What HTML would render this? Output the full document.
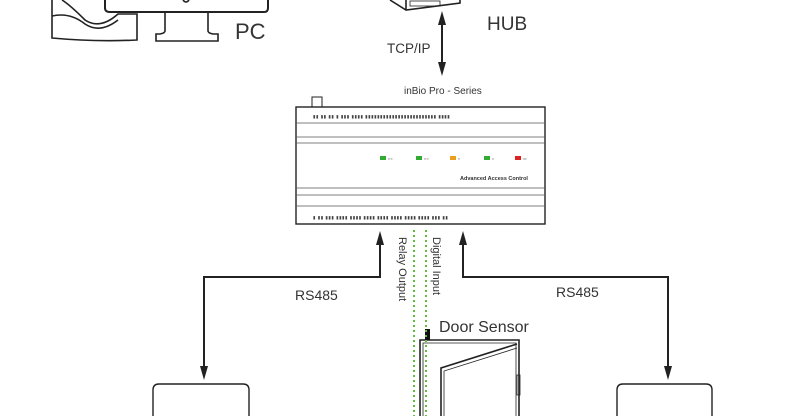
<!DOCTYPE html>
<html><head><style>
html,body{margin:0;padding:0;background:#fff;}
svg{display:block;font-family:"Liberation Sans",sans-serif;}
</style></head><body>
<svg width="785" height="416" viewBox="0 0 785 416" xmlns="http://www.w3.org/2000/svg">
<g fill="none" stroke="#222" stroke-width="1.6">
<!-- PC tower -->
<path d="M52,0 V38 Q95,42 137,40 V14 L118,14 Q100,30 85,20 Q70,5 62,0"/>
<path d="M52,16 Q70,12 85,24 Q100,34 118,20"/>
<!-- monitor -->
<path d="M105,0 V8 Q105,12 110,12 H264 Q268,12 268,8 V0" stroke-width="2"/>
<path d="M183,0 Q186,4 189,0"/>
<path d="M165,13 V31 Q165,33 160,34 H156 V41 H218 V34 H213 Q208,33 208,31 V13"/>
<!-- HUB -->
<path d="M390,0 L406,10 L460,3 V0"/>
<path d="M406,0 V10"/>
<rect x="410" y="1" width="30" height="5" stroke-width="0.8"/>
<!-- controller -->
<rect x="296" y="107" width="249" height="117" stroke-width="1.4"/>
<path d="M312,107 V97 H322 V107" stroke-width="1"/>
<path d="M296,123 H545 M296,137 H545 M296,143 H545 M296,188 H545 M296,195 H545 M296,206 H545" stroke-width="0.8" stroke="#555"/>
<!-- connectors -->
<path d="M442,20 V67" stroke-width="2"/>
<path d="M380,240 V277 H204 V370" stroke-width="2"/>
<path d="M463,240 V277 H668 V370" stroke-width="2"/>
<!-- door -->
<path d="M420,416 V340 H519 V416" stroke-width="1.6"/>
<path d="M423,416 V343 H516 V416" stroke-width="0.8"/>
<path d="M441,416 V368 L517,344" stroke-width="1.6"/>
<path d="M444,416 V371 L517,348" stroke-width="0.8"/>
<rect x="517" y="375" width="3" height="20" stroke-width="0.8"/>
<!-- readers -->
<path d="M153,416 V390 Q153,384 159,384 H243 Q249,384 249,390 V416" stroke-width="1.4"/>
<path d="M617,416 V390 Q617,384 623,384 H706 Q712,384 712,390 V416" stroke-width="1.4"/>
</g>
<g fill="#222">
<path d="M442,11 L446,25 L438,25 Z"/>
<path d="M442,76 L446,62 L438,62 Z"/>
<path d="M380,231 L384,245 L376,245 Z"/>
<path d="M463,231 L467,245 L459,245 Z"/>
<path d="M204,380 L208,366 L200,366 Z"/>
<path d="M668,380 L672,366 L664,366 Z"/>
</g>
<rect x="425" y="329" width="5" height="11" fill="#111"/>
<g stroke="#5fbf3a" stroke-width="2" stroke-dasharray="2,3">
<path d="M414,230 V416"/><path d="M426,230 V416"/>
</g>
<!-- LEDs -->
<rect x="380" y="156" width="6" height="4" fill="#3a3"/><rect x="416" y="156" width="6" height="4" fill="#3a3"/>
<rect x="450" y="156" width="6" height="4" fill="#e9a020"/><rect x="484" y="156" width="6" height="4" fill="#3a3"/>
<rect x="515" y="156" width="6" height="4" fill="#d22"/>
<g font-size="3" fill="#333">
<text x="388" y="160">━ ━</text><text x="424" y="160">━ ━</text><text x="458" y="160">━</text><text x="492" y="160">━</text><text x="523" y="160">━━</text>
</g>
<g fill="#444" font-size="4.5" letter-spacing="0.5">
<text x="313" y="118">▮▮ ▮▮ ▮▮ ▮ ▮▮▮   ▮▮▮▮ ▮▮▮▮▮▮▮▮▮▮▮▮▮▮▮▮▮▮▮▮▮▮▮▮ ▮▮▮▮</text>
<text x="313" y="219">▮      ▮▮   ▮▮▮ ▮▮▮▮ ▮▮▮▮ ▮▮▮▮ ▮▮▮▮ ▮▮▮▮ ▮▮▮▮ ▮▮▮▮ ▮▮▮ ▮▮</text>
</g>
<g fill="#333">
<text x="235" y="39" font-size="22">PC</text>
<text x="487" y="30" font-size="19">HUB</text>
<text x="387" y="53" font-size="13.5">TCP/IP</text>
<text x="404" y="94" font-size="10">inBio Pro - Series</text>
<text x="460" y="180" font-size="5.5" font-weight="bold">Advanced Access Control</text>
<text x="295" y="300" font-size="14">RS485</text>
<text x="556" y="297" font-size="14">RS485</text>
<text x="439" y="332" font-size="16">Door Sensor</text>
<text transform="translate(399,237) rotate(90)" font-size="11">Relay Output</text>
<text transform="translate(433,237) rotate(90)" font-size="11">Digital Input</text>
</g>
</svg>
</body></html>
